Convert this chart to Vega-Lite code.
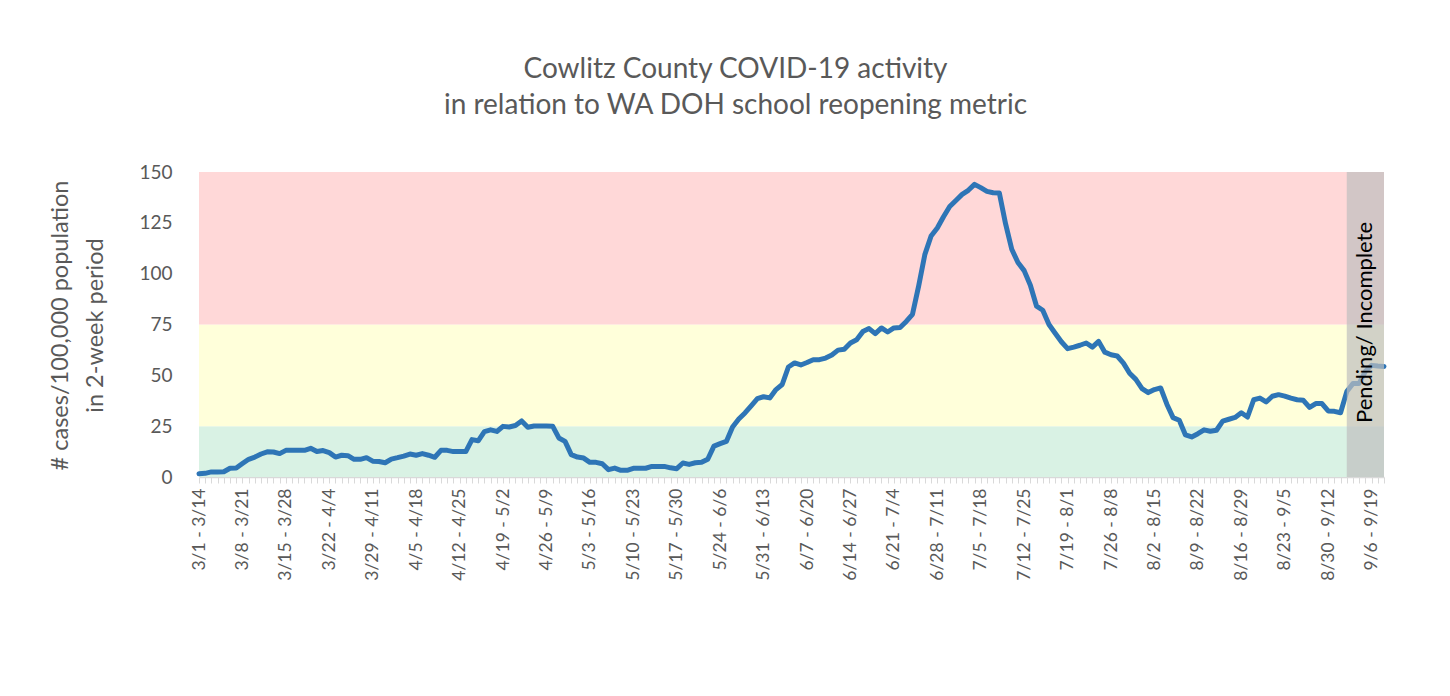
{
  "$schema": "https://vega.github.io/schema/vega-lite/v6.json",
  "width": 1185,
  "height": 305,
  "autosize": {"type": "none"},
  "padding": {"left": 199, "top": 172, "right": 66, "bottom": 219},
  "background": "white",
  "config": {"view": {"stroke": null}, "font": "Lato"},
  "title": {
    "text": ["Cowlitz County COVID-19 activity", "in relation to WA DOH school reopening metric"],
    "fontSize": 28,
    "fontWeight": "normal",
    "color": "#595959",
    "lineHeight": 36,
    "anchor": "middle",
    "frame": "group",
    "dx": -56,
    "offset": 43
  },
  "datasets": {
    "bands": [
      {"lo": 0, "hi": 25, "zone": "low"},
      {"lo": 25, "hi": 75, "zone": "moderate"},
      {"lo": 75, "hi": 150, "zone": "high"}
    ],
    "pending": [
      {"p": "9/2 - 9/15", "p2": "9/8 - 9/21", "tp": "9/5 - 9/18", "v": 76, "t": "Pending/ Incomplete"}
    ],
    "series": [
      {"p": "3/1 - 3/14", "v": 1.6}, {"p": "3/2 - 3/15", "v": 1.8}, {"p": "3/3 - 3/16", "v": 2.5}, {"p": "3/4 - 3/17", "v": 2.5},
      {"p": "3/5 - 3/18", "v": 2.6}, {"p": "3/6 - 3/19", "v": 4.3}, {"p": "3/7 - 3/20", "v": 4.4}, {"p": "3/8 - 3/21", "v": 6.6},
      {"p": "3/9 - 3/22", "v": 8.7}, {"p": "3/10 - 3/23", "v": 9.8}, {"p": "3/11 - 3/24", "v": 11.3}, {"p": "3/12 - 3/25", "v": 12.4},
      {"p": "3/13 - 3/26", "v": 12.3}, {"p": "3/14 - 3/27", "v": 11.5}, {"p": "3/15 - 3/28", "v": 13.1}, {"p": "3/16 - 3/29", "v": 13.1},
      {"p": "3/17 - 3/30", "v": 13.1}, {"p": "3/18 - 3/31", "v": 13.1}, {"p": "3/19 - 4/1", "v": 14.1}, {"p": "3/20 - 4/2", "v": 12.5},
      {"p": "3/21 - 4/3", "v": 13.0}, {"p": "3/22 - 4/4", "v": 12.0}, {"p": "3/23 - 4/5", "v": 9.8}, {"p": "3/24 - 4/6", "v": 10.7},
      {"p": "3/25 - 4/7", "v": 10.5}, {"p": "3/26 - 4/8", "v": 8.7}, {"p": "3/27 - 4/9", "v": 8.7}, {"p": "3/28 - 4/10", "v": 9.5},
      {"p": "3/29 - 4/11", "v": 7.8}, {"p": "3/30 - 4/12", "v": 7.6}, {"p": "3/31 - 4/13", "v": 7.0}, {"p": "4/1 - 4/14", "v": 8.8},
      {"p": "4/2 - 4/15", "v": 9.5}, {"p": "4/3 - 4/16", "v": 10.3}, {"p": "4/4 - 4/17", "v": 11.3}, {"p": "4/5 - 4/18", "v": 10.7},
      {"p": "4/6 - 4/19", "v": 11.5}, {"p": "4/7 - 4/20", "v": 10.7}, {"p": "4/8 - 4/21", "v": 9.7}, {"p": "4/9 - 4/22", "v": 13.1},
      {"p": "4/10 - 4/23", "v": 13.1}, {"p": "4/11 - 4/24", "v": 12.5}, {"p": "4/12 - 4/25", "v": 12.5}, {"p": "4/13 - 4/26", "v": 12.5},
      {"p": "4/14 - 4/27", "v": 18.4}, {"p": "4/15 - 4/28", "v": 17.8}, {"p": "4/16 - 4/29", "v": 22.3}, {"p": "4/17 - 4/30", "v": 23.2},
      {"p": "4/18 - 5/1", "v": 22.4}, {"p": "4/19 - 5/2", "v": 24.9}, {"p": "4/20 - 5/3", "v": 24.6}, {"p": "4/21 - 5/4", "v": 25.3},
      {"p": "4/22 - 5/5", "v": 27.6}, {"p": "4/23 - 5/6", "v": 24.5}, {"p": "4/24 - 5/7", "v": 25.1}, {"p": "4/25 - 5/8", "v": 25.1},
      {"p": "4/26 - 5/9", "v": 25.1}, {"p": "4/27 - 5/10", "v": 25.0}, {"p": "4/28 - 5/11", "v": 19.2}, {"p": "4/29 - 5/12", "v": 17.5},
      {"p": "4/30 - 5/13", "v": 11.0}, {"p": "5/1 - 5/14", "v": 9.8}, {"p": "5/2 - 5/15", "v": 9.3}, {"p": "5/3 - 5/16", "v": 7.2},
      {"p": "5/4 - 5/17", "v": 7.2}, {"p": "5/5 - 5/18", "v": 6.5}, {"p": "5/6 - 5/19", "v": 3.6}, {"p": "5/7 - 5/20", "v": 4.4},
      {"p": "5/8 - 5/21", "v": 3.3}, {"p": "5/9 - 5/22", "v": 3.3}, {"p": "5/10 - 5/23", "v": 4.3}, {"p": "5/11 - 5/24", "v": 4.3},
      {"p": "5/12 - 5/25", "v": 4.3}, {"p": "5/13 - 5/26", "v": 5.2}, {"p": "5/14 - 5/27", "v": 5.2}, {"p": "5/15 - 5/28", "v": 5.2},
      {"p": "5/16 - 5/29", "v": 4.5}, {"p": "5/17 - 5/30", "v": 4.1}, {"p": "5/18 - 5/31", "v": 6.9}, {"p": "5/19 - 6/1", "v": 6.2},
      {"p": "5/20 - 6/2", "v": 7.0}, {"p": "5/21 - 6/3", "v": 7.2}, {"p": "5/22 - 6/4", "v": 8.7}, {"p": "5/23 - 6/5", "v": 15.2},
      {"p": "5/24 - 6/6", "v": 16.4}, {"p": "5/25 - 6/7", "v": 17.5}, {"p": "5/26 - 6/8", "v": 24.6}, {"p": "5/27 - 6/9", "v": 28.5},
      {"p": "5/28 - 6/10", "v": 31.5}, {"p": "5/29 - 6/11", "v": 35.0}, {"p": "5/30 - 6/12", "v": 38.5}, {"p": "5/31 - 6/13", "v": 39.5},
      {"p": "6/1 - 6/14", "v": 38.9}, {"p": "6/2 - 6/15", "v": 43.0}, {"p": "6/3 - 6/16", "v": 45.5}, {"p": "6/4 - 6/17", "v": 54.1},
      {"p": "6/5 - 6/18", "v": 56.1}, {"p": "6/6 - 6/19", "v": 55.1}, {"p": "6/7 - 6/20", "v": 56.3}, {"p": "6/8 - 6/21", "v": 57.7},
      {"p": "6/9 - 6/22", "v": 57.7}, {"p": "6/10 - 6/23", "v": 58.5}, {"p": "6/11 - 6/24", "v": 60.0}, {"p": "6/12 - 6/25", "v": 62.4},
      {"p": "6/13 - 6/26", "v": 62.8}, {"p": "6/14 - 6/27", "v": 65.9}, {"p": "6/15 - 6/28", "v": 67.5}, {"p": "6/16 - 6/29", "v": 71.5},
      {"p": "6/17 - 6/30", "v": 73.0}, {"p": "6/18 - 7/1", "v": 70.5}, {"p": "6/19 - 7/2", "v": 73.3}, {"p": "6/20 - 7/3", "v": 71.3},
      {"p": "6/21 - 7/4", "v": 73.3}, {"p": "6/22 - 7/5", "v": 73.5}, {"p": "6/23 - 7/6", "v": 76.5}, {"p": "6/24 - 7/7", "v": 80.0},
      {"p": "6/25 - 7/8", "v": 94.0}, {"p": "6/26 - 7/9", "v": 109.5}, {"p": "6/27 - 7/10", "v": 118.5}, {"p": "6/28 - 7/11", "v": 122.5},
      {"p": "6/29 - 7/12", "v": 128.0}, {"p": "6/30 - 7/13", "v": 133.0}, {"p": "7/1 - 7/14", "v": 136.0}, {"p": "7/2 - 7/15", "v": 139.0},
      {"p": "7/3 - 7/16", "v": 141.0}, {"p": "7/4 - 7/17", "v": 143.9}, {"p": "7/5 - 7/18", "v": 142.3}, {"p": "7/6 - 7/19", "v": 140.5},
      {"p": "7/7 - 7/20", "v": 139.8}, {"p": "7/8 - 7/21", "v": 139.7}, {"p": "7/9 - 7/22", "v": 124.6}, {"p": "7/10 - 7/23", "v": 112.0},
      {"p": "7/11 - 7/24", "v": 105.5}, {"p": "7/12 - 7/25", "v": 101.5}, {"p": "7/13 - 7/26", "v": 94.3}, {"p": "7/14 - 7/27", "v": 84.0},
      {"p": "7/15 - 7/28", "v": 82.0}, {"p": "7/16 - 7/29", "v": 75.0}, {"p": "7/17 - 7/30", "v": 70.7}, {"p": "7/18 - 7/31", "v": 66.5},
      {"p": "7/19 - 8/1", "v": 63.1}, {"p": "7/20 - 8/2", "v": 63.9}, {"p": "7/21 - 8/3", "v": 64.8}, {"p": "7/22 - 8/4", "v": 65.9},
      {"p": "7/23 - 8/5", "v": 63.9}, {"p": "7/24 - 8/6", "v": 66.7}, {"p": "7/25 - 8/7", "v": 61.4}, {"p": "7/26 - 8/8", "v": 60.1},
      {"p": "7/27 - 8/9", "v": 59.5}, {"p": "7/28 - 8/10", "v": 56.0}, {"p": "7/29 - 8/11", "v": 51.0}, {"p": "7/30 - 8/12", "v": 48.0},
      {"p": "7/31 - 8/13", "v": 43.5}, {"p": "8/1 - 8/14", "v": 41.5}, {"p": "8/2 - 8/15", "v": 43.0}, {"p": "8/3 - 8/16", "v": 43.8},
      {"p": "8/4 - 8/17", "v": 35.8}, {"p": "8/5 - 8/18", "v": 29.2}, {"p": "8/6 - 8/19", "v": 27.9}, {"p": "8/7 - 8/20", "v": 20.7},
      {"p": "8/8 - 8/21", "v": 19.7}, {"p": "8/9 - 8/22", "v": 21.3}, {"p": "8/10 - 8/23", "v": 23.2}, {"p": "8/11 - 8/24", "v": 22.5},
      {"p": "8/12 - 8/25", "v": 23.0}, {"p": "8/13 - 8/26", "v": 27.5}, {"p": "8/14 - 8/27", "v": 28.4}, {"p": "8/15 - 8/28", "v": 29.3},
      {"p": "8/16 - 8/29", "v": 31.6}, {"p": "8/17 - 8/30", "v": 29.5}, {"p": "8/18 - 8/31", "v": 38.0}, {"p": "8/19 - 9/1", "v": 38.8},
      {"p": "8/20 - 9/2", "v": 36.9}, {"p": "8/21 - 9/3", "v": 39.7}, {"p": "8/22 - 9/4", "v": 40.5}, {"p": "8/23 - 9/5", "v": 39.8},
      {"p": "8/24 - 9/6", "v": 38.8}, {"p": "8/25 - 9/7", "v": 38.0}, {"p": "8/26 - 9/8", "v": 37.7}, {"p": "8/27 - 9/9", "v": 34.2},
      {"p": "8/28 - 9/10", "v": 36.1}, {"p": "8/29 - 9/11", "v": 36.1}, {"p": "8/30 - 9/12", "v": 32.5}, {"p": "8/31 - 9/13", "v": 32.3},
      {"p": "9/1 - 9/14", "v": 31.6}, {"p": "9/2 - 9/15", "v": 42.0}, {"p": "9/3 - 9/16", "v": 46.0}, {"p": "9/4 - 9/17", "v": 46.0},
      {"p": "9/5 - 9/18", "v": 52.0}, {"p": "9/6 - 9/19", "v": 54.9}, {"p": "9/7 - 9/20", "v": 54.6}, {"p": "9/8 - 9/21", "v": 54.4}
    ]
  },
  "layer": [
    {
      "data": {"name": "bands"},
      "mark": {"type": "rect"},
      "encoding": {
        "y": {"field": "lo", "type": "quantitative", "scale": {"domain": [0, 150], "nice": false, "zero": true}},
        "y2": {"field": "hi"},
        "color": {
          "field": "zone",
          "type": "nominal",
          "scale": {"domain": ["low", "moderate", "high"], "range": ["#D9F2E4", "#FFFFDA", "#FFD8D8"]},
          "legend": null
        }
      }
    },
    {
      "data": {"name": "series"},
      "mark": {"type": "line", "color": "#2E75B6", "strokeWidth": 5, "strokeCap": "round", "strokeJoin": "round"},
      "encoding": {
        "x": {
          "field": "p",
          "type": "ordinal",
          "sort": null,
          "scale": {"type": "point", "padding": 0},
          "axis": {
            "title": null,
            "labelAngle": -90,
            "labelFontSize": 17.5,
            "labelColor": "#595959",
            "labelPadding": 5,
            "labelOverlap": false,
            "tickColor": "#D9D9D9",
            "tickSize": 6,
            "domainColor": "#D9D9D9",
            "domainWidth": 1.5,
            "grid": false,
            "labelExpr": "indexof(['3/1 - 3/14','3/8 - 3/21','3/15 - 3/28','3/22 - 4/4','3/29 - 4/11','4/5 - 4/18','4/12 - 4/25','4/19 - 5/2','4/26 - 5/9','5/3 - 5/16','5/10 - 5/23','5/17 - 5/30','5/24 - 6/6','5/31 - 6/13','6/7 - 6/20','6/14 - 6/27','6/21 - 7/4','6/28 - 7/11','7/5 - 7/18','7/12 - 7/25','7/19 - 8/1','7/26 - 8/8','8/2 - 8/15','8/9 - 8/22','8/16 - 8/29','8/23 - 9/5','8/30 - 9/12','9/6 - 9/19'], datum.label) >= 0 ? datum.label : ''"
          }
        },
        "y": {
          "field": "v",
          "type": "quantitative",
          "axis": {
            "values": [0, 25, 50, 75, 100, 125, 150],
            "domain": false,
            "ticks": false,
            "tickSize": 0,
            "grid": false,
            "labelFontSize": 19,
            "labelColor": "#595959",
            "labelPadding": 27,
            "title": ["# cases/100,000 population", "in 2-week period"],
            "titleFontSize": 23.5,
            "titleFontWeight": "normal",
            "titleColor": "#595959",
            "titleAngle": -90,
            "titleAlign": "center",
            "titleBaseline": "middle",
            "titleLineHeight": 35,
            "titleX": -139,
            "titleY": 153
          }
        }
      }
    },
    {
      "data": {"name": "pending"},
      "mark": {"type": "rect", "color": "#BFBFBF", "opacity": 0.7},
      "encoding": {
        "x": {"field": "p", "type": "ordinal", "sort": null},
        "x2": {"field": "p2"}
      }
    },
    {
      "data": {"name": "pending"},
      "mark": {"type": "text", "angle": 270, "fontSize": 22, "color": "#000000", "align": "center", "baseline": "middle"},
      "encoding": {
        "x": {"field": "tp", "type": "ordinal", "sort": null},
        "y": {"field": "v", "type": "quantitative"},
        "text": {"field": "t"}
      }
    }
  ]
}
